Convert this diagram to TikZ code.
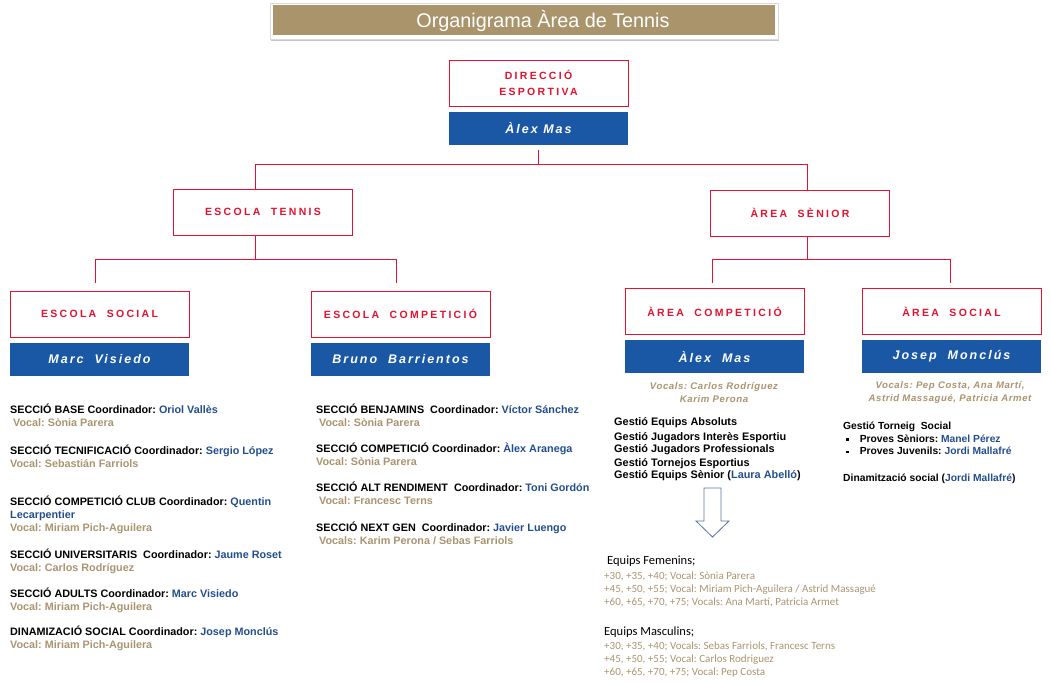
\documentclass[tikz,border=0pt]{standalone}
\usepackage{fontspec}
\setmainfont{Liberation Sans}
\newfontfamily\calibri{Carlito}
\usetikzlibrary{positioning,shadows}
\definecolor{boxred}{RGB}{226,18,48}
\definecolor{barblue}{RGB}{26,88,165}
\definecolor{titletan}{RGB}{170,148,108}
\definecolor{vocaltan}{RGB}{170,148,112}
\definecolor{nameblue}{RGB}{35,78,142}
\definecolor{arrowblue}{RGB}{84,116,164}
\newcommand{\nom}[1]{{\color{nameblue}#1}}
\newcommand{\vocal}[1]{{\color{vocaltan}#1}}
\newcommand{\sqbullet}{\hspace{3pt}\rule[1.5pt]{2.6pt}{2.6pt}\hspace{11pt}}
\frenchspacing
\tikzset{
  unit/.style={draw=boxred, line width=0.9pt, fill=white, minimum width=179pt,
    minimum height=46pt, inner sep=0pt, text=boxred, align=center,
    font=\bfseries\fontsize{10.5}{16}\selectfont\addfontfeature{LetterSpace=22}},
  head/.style={fill=barblue, minimum width=179pt, minimum height=33pt, inner sep=0pt,
    text=white, font=\bfseries\itshape\fontsize{12.5}{14}\selectfont\addfontfeature{LetterSpace=16}},
  conn/.style={draw=boxred, line width=0.8pt},
  info/.style={anchor=north west, inner sep=0pt, align=left,
    font=\bfseries\fontsize{10.8}{13}\selectfont},
  note/.style={inner sep=0pt, align=center, text=vocaltan,
    font=\bfseries\itshape\fontsize{9.6}{13}\selectfont\addfontfeature{LetterSpace=6}},
  equip/.style={anchor=north west, inner sep=0pt, align=left,
    font=\calibri\fontsize{11}{13}\selectfont, text=vocaltan},
}
\begin{document}
\begin{tikzpicture}[x=1pt,y=1pt]
  \useasboundingbox (0,0) rectangle (1051,-684);
  % title
  \node[fill=white, draw=black!15, minimum width=508pt, minimum height=36pt,
    drop shadow={shadow xshift=1pt, shadow yshift=-2.5pt, fill=black!45}] (frame) at (524,-21) {};
  \node[fill=titletan, minimum width=502pt, minimum height=30pt] (titlebar) at (524,-20.5) {};
  \node[text=white, font=\fontsize{19.8}{22}\selectfont] (title) at (543,-20.5) {Organigrama Àrea de Tennis};
  % boxes
  \node[unit] (dir) at (538.5,-83) {DIRECCIÓ\\ESPORTIVA};
  \node[head, below=5pt of dir] (dirname) {Àlex Mas};
  \node[unit] (escola) at (263,-212) {ESCOLA\ \ TENNIS};
  \node[unit] (senior) at (800,-213) {ÀREA\ \ SÈNIOR};
  \node[unit] (esocial) at (99.5,-314) {ESCOLA\ \ SOCIAL};
  \node[head, below=5pt of esocial] (esocialname) {Marc\ \ Visiedo};
  \node[unit] (ecomp) at (400.5,-314) {ESCOLA\ \ COMPETICIÓ};
  \node[head, below=5pt of ecomp] (ecompname) {Bruno\ \ Barrientos};
  \node[unit] (acomp) at (714.5,-311.5) {ÀREA\ \ COMPETICIÓ};
  \node[head, below=5pt of acomp] (acompname) {Àlex\ \ Mas};
  \node[unit] (asocial) at (951.5,-311.5) {ÀREA\ \ SOCIAL};
  \node[head, below=5pt of asocial] (asocialname) {Josep\ \ Monclús};
  % connectors
  \draw[conn] ([yshift=-5pt]dirname.south) -- ++(0,-15) coordinate (j0);
  \draw[conn] ([xshift=-8pt]escola.north) |- (j0) -| ([xshift=7pt]senior.north);
  \draw[conn] ([xshift=-8pt]escola.south) -- ++(0,-24) coordinate (j1);
  \draw[conn] ([xshift=-4pt,yshift=8pt]esocial.north) |- (j1) -| ([xshift=-4pt,yshift=8pt]ecomp.north);
  \draw[conn] ([xshift=7pt]senior.south) -- ++(0,-23) coordinate (j2);
  \draw[conn] ([xshift=-2pt,yshift=5pt]acomp.north) |- (j2) -| ([xshift=-1pt,yshift=5pt]asocial.north);
  % escola social
  \node[info] (sbase) at (10,-404) {SECCIÓ BASE Coordinador: \nom{Oriol Vallès}\\\hspace{3pt}\vocal{Vocal: Sònia Parera}};
  \node[info] (stecn) at (10,-445) {SECCIÓ TECNIFICACIÓ Coordinador: \nom{Sergio López}\\\vocal{Vocal: Sebastián Farriols}};
  \node[info] (sclub) at (10,-496) {SECCIÓ COMPETICIÓ CLUB Coordinador: \nom{Quentin}\\\nom{Lecarpentier}\\\vocal{Vocal: Miriam Pich-Aguilera}};
  \node[info] (suniv) at (10,-549) {SECCIÓ UNIVERSITARIS\ \ Coordinador: \nom{Jaume Roset}\\\vocal{Vocal: Carlos Rodríguez}};
  \node[info] (sadult) at (10,-588) {SECCIÓ ADULTS Coordinador: \nom{Marc Visiedo}\\\vocal{Vocal: Miriam Pich-Aguilera}};
  \node[info] (sdinam) at (10,-626) {DINAMIZACIÓ SOCIAL Coordinador: \nom{Josep Monclús}\\\vocal{Vocal: Miriam Pich-Aguilera}};
  % escola competicio
  \node[info] (sbenj) at (316,-404) {SECCIÓ BENJAMINS\ \ Coordinador: \nom{Víctor Sánchez}\\\hspace{3pt}\vocal{Vocal: Sònia Parera}};
  \node[info] (scomp) at (316,-443) {SECCIÓ COMPETICIÓ Coordinador: \nom{Àlex Aranega}\\\vocal{Vocal: Sònia Parera}};
  \node[info] (salt) at (316,-482) {SECCIÓ ALT RENDIMENT\ \ Coordinador: \nom{Toni Gordón}\\\hspace{3pt}\vocal{Vocal: Francesc Terns}};
  \node[info] (snext) at (316,-522) {SECCIÓ NEXT GEN\ \ Coordinador: \nom{Javier Luengo}\\\hspace{3pt}\vocal{Vocals: Karim Perona / Sebas Farriols}};
  % area competicio
  \node[note] (acompvoc) at (714,-392.5) {Vocals: Carlos Rodríguez\\Karim Perona};
  \node[info, font=\bfseries\fontsize{10.9}{12}\selectfont] (gestio) at (614,-417) {Gestió Equips Absoluts\\[3pt]
    Gestió Jugadors Interès Esportiu\\Gestió Jugadors Professionals\\[2pt]
    Gestió Tornejos Esportius\\Gestió Equips Sènior (\nom{Laura Abelló})};
  \draw[arrowblue, line width=0.8pt] (704,-488) -- (721,-488) -- (721,-521) -- (729,-521)
    -- (712.5,-537) -- (696,-521) -- (704,-521) -- cycle; % down arrow
  \node[equip] (femen) at (604,-556) {{\color{black}\fontsize{12.5}{13}\selectfont\hspace{3pt}Equips Femenins;}\\[2pt]
    +30, +35, +40; Vocal: Sònia Parera\\+45, +50, +55; Vocal: Miriam Pich-Aguilera / Astrid Massagué\\
    +60, +65, +70, +75; Vocals: Ana Martí, Patricia Armet};
  \node[equip] (mascu) at (604,-627) {{\color{black}\fontsize{12.5}{13}\selectfont Equips Masculins;}\\[1pt]
    +30, +35, +40; Vocals: Sebas Farriols, Francesc Terns\\+45, +50, +55; Vocal: Carlos Rodriguez\\
    +60, +65, +70, +75; Vocal: Pep Costa};
  % area social
  \node[note] (asocvoc) at (950,-392.5) {Vocals: Pep Costa, Ana Martí,\\Astrid Massagué, Patricia Armet};
  \node[info, font=\bfseries\fontsize{10.3}{12.5}\selectfont] (torneig) at (843,-422) {Gestió Torneig\ \ Social\\
    \sqbullet Proves Sèniors: \nom{Manel Pérez}\\\sqbullet Proves Juvenils: \nom{Jordi Mallafré}\\[14.5pt]
    Dinamització social (\nom{Jordi Mallafré})};
\end{tikzpicture}
\end{document}
